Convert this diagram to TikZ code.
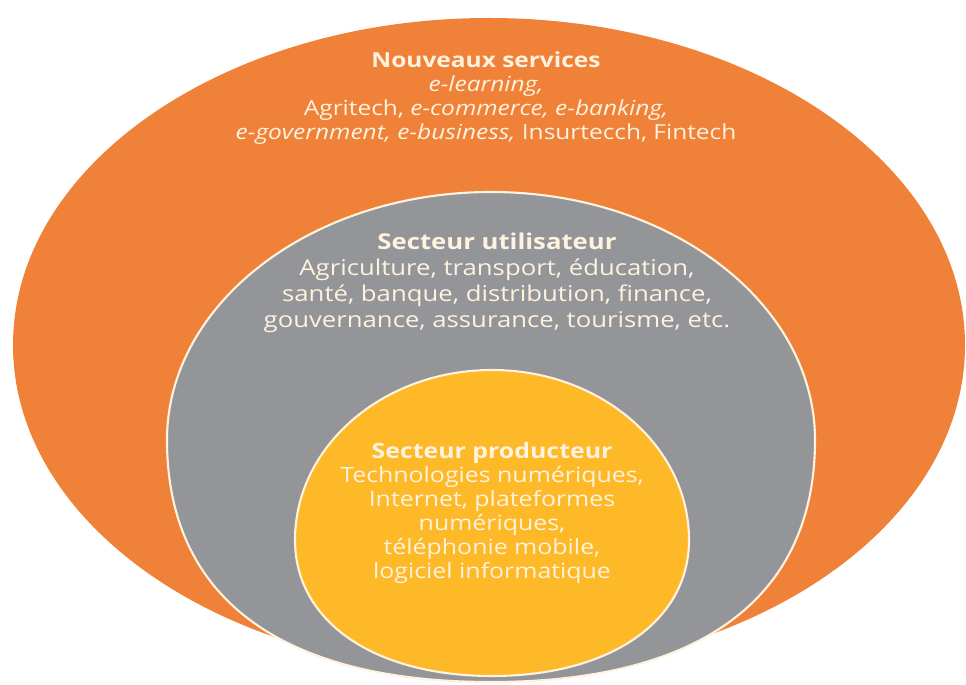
\documentclass[tikz,border=0pt]{standalone}
\usepackage{fontspec}
\setmainfont{Open Sans}[FakeStretch=1.18]
\definecolor{sorange}{HTML}{EF8139}
\definecolor{sgray}{HTML}{939598}
\definecolor{syellow}{HTML}{FDB927}
\definecolor{cream}{HTML}{FFF2DE}
\tikzset{
    label text/.style = {align=center, text=cream},
    ring edge/.style = {draw=cream, line width=1.2pt},
}
\begin{document}
\begin{tikzpicture}
    \useasboundingbox (0, 0) rectangle (19.32, 13.68);
    \fill[sorange] (9.78, 6.78) ellipse (9.52 and 6.54);
    % the two inner rings are a little flatter below
    \draw[ring edge, fill=sgray] (3.34, 4.88) arc[start angle=180, end angle=0, x radius=6.48, y radius=4.96]
        .. controls (16.30, 1.73) and (14.03, 0.04) .. (9.82, 0.04)
        .. controls (5.61, 0.04) and (3.34, 1.73) .. cycle;
    \draw[ring edge, fill=syellow] (5.90, 2.88) arc[start angle=180, end angle=0, x radius=3.94, y radius=3.40]
        .. controls (13.78, 1.25) and (12.20, 0.16) .. (9.84, 0.16)
        .. controls (7.48, 0.16) and (5.90, 1.25) .. cycle;
    \node[label text, font=\fontsize{11.8}{13.7}\selectfont] (services) at (9.72, 11.72)
        {\textbf{Nouveaux services}\\ \textit{e-learning,}\\
         Agritech, \textit{e-commerce, e-banking,}\\
         \textit{e-government, e-business,} Insurtecch, Fintech};
    \node[label text, font=\fontsize{12.4}{14.8}\selectfont] (users) at (9.94, 8.02)
        {\textbf{Secteur utilisateur}\\ Agriculture, transport, éducation,\\
         santé, banque, distribution, finance,\\
         gouvernance, assurance, tourisme, etc.};
    \node[label text, font=\fontsize{12}{13.7}\selectfont] (producers) at (9.84, 3.42)
        {\textbf{Secteur producteur}\\ Technologies numériques,\\
         Internet, plateformes\\ numériques,\\ téléphonie mobile,\\
         logiciel informatique};
\end{tikzpicture}
\end{document}
